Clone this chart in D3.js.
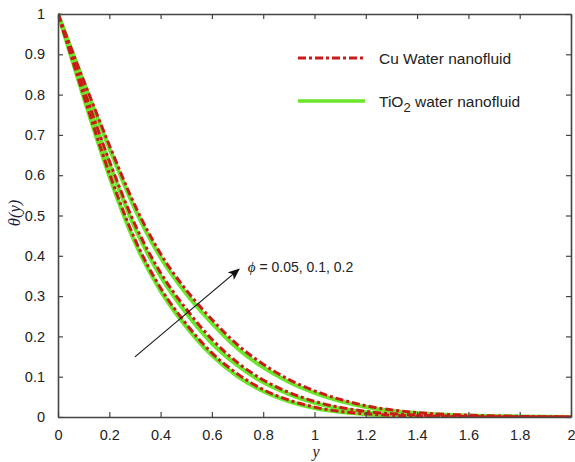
<!DOCTYPE html>
<html>
<head>
<meta charset="utf-8">
<script src="https://cdn.jsdelivr.net/npm/d3@7/dist/d3.min.js"></script>
<style>
  html, body { margin: 0; padding: 0; background: #fff; }
  svg { display: block; }
  text { font-family: Arial, "Liberation Sans", sans-serif; }
</style>
</head>
<body>
<svg id="chart" width="575" height="462"></svg>
<script>
// ---------------- data ----------------
const yGrid = [0, 0.1, 0.2, 0.3, 0.4, 0.5, 0.6, 0.7, 0.8, 0.9, 1.0, 1.2, 1.4, 1.6, 1.8, 2.0];

// Cu water nanofluid (red dash-dot), phi = 0.05, 0.1, 0.2
const cuPhi005 = [1, 0.798, 0.605, 0.441, 0.320, 0.231, 0.159, 0.107, 0.068, 0.042, 0.0245, 0.0078, 0.0025, 0.0004, 0.0001, 0];
const cuPhi01  = [1, 0.814, 0.636, 0.478, 0.358, 0.268, 0.193, 0.135, 0.092, 0.061, 0.039, 0.014, 0.0049, 0.0014, 0.0003, 0];
const cuPhi02  = [1, 0.835, 0.675, 0.525, 0.405, 0.315, 0.242, 0.179, 0.131, 0.093, 0.065, 0.028, 0.011, 0.0045, 0.0015, 0];

// TiO2 water nanofluid (green solid), phi = 0.05, 0.1, 0.2
const tiPhi005 = [1, 0.793, 0.598, 0.433, 0.313, 0.224, 0.153, 0.101, 0.064, 0.039, 0.022, 0.0068, 0.0021, 0.0003, 0.0001, 0];
const tiPhi01  = [1, 0.810, 0.628, 0.469, 0.349, 0.258, 0.183, 0.128, 0.086, 0.057, 0.035, 0.012, 0.0042, 0.0011, 0.0002, 0];
const tiPhi02  = [1, 0.831, 0.667, 0.516, 0.396, 0.306, 0.233, 0.170, 0.123, 0.087, 0.060, 0.025, 0.0096, 0.0039, 0.0013, 0];

const xTicks = [0, 0.2, 0.4, 0.6, 0.8, 1, 1.2, 1.4, 1.6, 1.8, 2];
const yTicks = [0, 0.1, 0.2, 0.3, 0.4, 0.5, 0.6, 0.7, 0.8, 0.9, 1];

const legendLabels = ["Cu Water nanofluid", "TiO2 water nanofluid"];
const annotationText = "= 0.05, 0.1, 0.2";
// arrow (data coords): tail -> head
const arrowFrom = [0.30, 0.149];
const arrowTo = [0.706, 0.367];
const labelAt = [0.74, 0.372];

// ---------------- chart ----------------
(function () {
const svg = d3.select("#chart");
const M = { left: 58, right: 571, top: 14, bottom: 417 };
const x = d3.scaleLinear().domain([0, 2]).range([M.left, M.right]);
const y = d3.scaleLinear().domain([0, 1]).range([M.bottom, M.top]);

const RED = "#cc1a1a";
const GREEN = "#6ae52a";
const AXIS = "#444";
const TXT = "#222";

const line = d3.line()
  .x(d => x(d[0]))
  .y(d => y(d[1]))
  .curve(d3.curveMonotoneX);

svg.append("clipPath").attr("id", "plotclip")
  .append("rect").attr("x", M.left).attr("y", M.top - 3)
  .attr("width", M.right - M.left).attr("height", M.bottom - M.top + 3);

const g = svg.append("g").attr("clip-path", "url(#plotclip)");

const greens = [tiPhi005, tiPhi01, tiPhi02];
const reds = [cuPhi005, cuPhi01, cuPhi02];

greens.forEach(s => {
  g.append("path")
    .datum(yGrid.map((v, i) => [v, s[i]]))
    .attr("d", line)
    .attr("fill", "none")
    .attr("stroke", GREEN)
    .attr("stroke-width", 4)
    .attr("stroke-linejoin", "round");
});
reds.forEach(s => {
  g.append("path")
    .datum(yGrid.map((v, i) => [v, s[i]]))
    .attr("d", line)
    .attr("fill", "none")
    .attr("stroke", RED)
    .attr("stroke-width", 3)
    .attr("stroke-dasharray", "8,3,3,3");
});

// ---------------- axes (box with inward ticks) ----------------
const fmt = d3.format("");
const ax = svg.append("g");

ax.append("g").attr("transform", `translate(0,${M.bottom})`)
  .call(d3.axisBottom(x).tickValues(xTicks).tickFormat(fmt).tickSizeInner(-5).tickSizeOuter(0).tickPadding(13));
ax.append("g").attr("transform", `translate(0,${M.top})`)
  .call(d3.axisTop(x).tickValues(xTicks).tickFormat("").tickSizeInner(-5).tickSizeOuter(0));
ax.append("g").attr("transform", `translate(${M.left},0)`)
  .call(d3.axisLeft(y).tickValues(yTicks).tickFormat(fmt).tickSizeInner(-5).tickSizeOuter(0).tickPadding(13));
ax.append("g").attr("transform", `translate(${M.right},0)`)
  .call(d3.axisRight(y).tickValues(yTicks).tickFormat("").tickSizeInner(-5).tickSizeOuter(0));

ax.selectAll(".domain").attr("stroke", AXIS).attr("stroke-width", 1.6);
ax.selectAll(".tick line").attr("stroke", AXIS).attr("stroke-width", 1.2);
ax.selectAll(".tick text").attr("fill", TXT).style("font-size", "14.5px")
  .style("font-family", "Arial, 'Liberation Sans', sans-serif");

// axis titles
svg.append("text")
  .attr("x", 316)
  .attr("y", 457)
  .attr("text-anchor", "middle")
  .style("font-family", "'Times New Roman', 'Liberation Serif', serif")
  .style("font-style", "italic")
  .style("font-size", "16px")
  .attr("fill", TXT)
  .text("y");

svg.append("text")
  .attr("transform", "translate(20,213) rotate(-90)")
  .attr("text-anchor", "middle")
  .style("font-family", "'Times New Roman', 'Liberation Serif', serif")
  .style("font-style", "italic")
  .style("font-size", "16.5px")
  .attr("fill", "#1a1a3a")
  .text("θ(y)");

// ---------------- legend ----------------
const leg = svg.append("g");
const legY = [58, 101];
leg.append("line").attr("x1", 298).attr("x2", 365).attr("y1", legY[0]).attr("y2", legY[0])
  .attr("stroke", RED).attr("stroke-width", 3).attr("stroke-dasharray", "8,3,3,3");
leg.append("line").attr("x1", 298).attr("x2", 365).attr("y1", legY[1]).attr("y2", legY[1])
  .attr("stroke", GREEN).attr("stroke-width", 3.5);

leg.append("text").attr("x", 379).attr("y", legY[0] + 5.5)
  .style("font-size", "15.5px").attr("fill", TXT)
  .text(legendLabels[0]);

const t2 = leg.append("text").attr("x", 379).attr("y", legY[1] + 5.5)
  .style("font-size", "15.5px").attr("fill", TXT);
t2.append("tspan").text("TiO");
t2.append("tspan").attr("dy", 5).style("font-size", "13px").text("2");
t2.append("tspan").attr("dy", -5).text(" water nanofluid");

// ---------------- annotation arrow ----------------
svg.append("defs").append("marker")
  .attr("id", "arrowhead")
  .attr("viewBox", "0 0 12 10")
  .attr("refX", 11).attr("refY", 5)
  .attr("markerWidth", 12).attr("markerHeight", 10)
  .attr("markerUnits", "userSpaceOnUse")
  .attr("orient", "auto")
  .append("path").attr("d", "M0,0 L12,5 L0,10 L3,5 Z").attr("fill", "#111");

svg.append("line")
  .attr("x1", x(arrowFrom[0])).attr("y1", y(arrowFrom[1]))
  .attr("x2", x(arrowTo[0])).attr("y2", y(arrowTo[1]))
  .attr("stroke", "#111").attr("stroke-width", 1.1)
  .attr("marker-end", "url(#arrowhead)");

const ann = svg.append("text")
  .attr("x", x(labelAt[0])).attr("y", y(labelAt[1]) + 5)
  .style("font-size", "14px").attr("fill", TXT);
ann.append("tspan")
  .style("font-family", "'Times New Roman', 'Liberation Serif', serif")
  .style("font-style", "italic")
  .style("font-size", "15px")
  .text("ϕ");
ann.append("tspan").text(" " + annotationText);
})();
</script>
</body>
</html>
